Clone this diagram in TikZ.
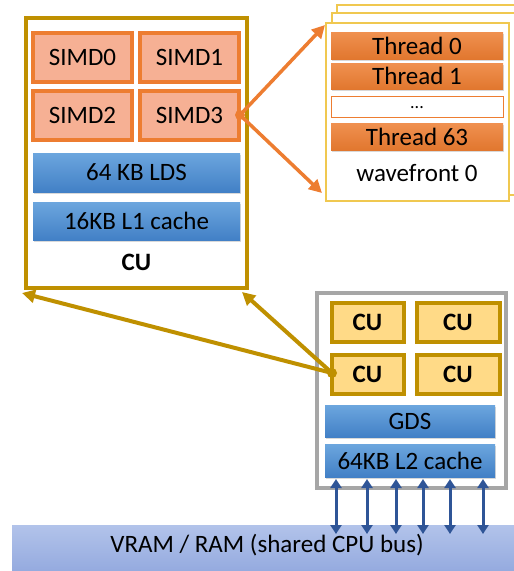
\documentclass[tikz,border=0pt]{standalone}
\usepackage{fontspec}
\setmainfont{Carlito}
\usetikzlibrary{arrows.meta,shadows}
\definecolor{gold}{RGB}{191,144,0}
\definecolor{orng}{RGB}{237,125,49}
\definecolor{salmon}{RGB}{246,176,148}
\definecolor{bluet}{RGB}{108,166,222}
\definecolor{blueb}{RGB}{66,128,198}
\definecolor{cufill}{RGB}{255,218,135}
\definecolor{grayb}{RGB}{166,166,166}
\definecolor{wfb}{RGB}{240,200,80}
\definecolor{busb}{RGB}{47,85,151}
\definecolor{vramt}{RGB}{178,195,234}
\definecolor{vramb}{RGB}{146,168,222}
\tikzset{
  txt/.style={font=\fontsize{25}{30}\selectfont},
  simdbox/.style={txt, draw=orng, line width=4pt, fill=salmon, inner sep=0pt, minimum width=99pt, minimum height=49pt},
  membox/.style={txt, inner sep=0pt, top color=bluet, bottom color=blueb, draw=none,
     drop shadow={opacity=0.3, shadow xshift=1pt, shadow yshift=-2pt}},
  thrbox/.style={txt, inner sep=0pt, minimum width=172pt, top color=orng!85, bottom color=orng!95!black, draw=none,
     drop shadow={opacity=0.3, shadow xshift=1pt, shadow yshift=-2pt}},
  cubox/.style={txt, font=\fontsize{25}{30}\selectfont\bfseries, draw=gold, line width=4pt, fill=cufill, inner sep=0pt, minimum height=39pt},
  orarrow/.style={draw=orng, line width=3.5pt, -{Triangle[length=13pt,width=13pt]}},
  goarrow/.style={draw=gold, line width=4pt, -{Triangle[length=13pt,width=13pt]}},
  busarrow/.style={draw=busb, line width=3pt, {Triangle[length=9pt,width=11pt]}-{Triangle[length=9pt,width=11pt]}},
}
\begin{document}
\begin{tikzpicture}[x=1pt,y=-1pt]
\useasboundingbox (0,0) rectangle (514,571);
% big CU box
\node[draw=gold, line width=4pt, minimum width=221pt, minimum height=270pt, inner sep=0pt] (cubig) at (136.5,153) {};
\node[simdbox] (s0) at (82.5,57.5) {SIMD0};
\node[simdbox] (s1) at (189.5,57.5) {SIMD1};
\node[simdbox] (s2) at (82.5,115) {SIMD2};
\node[simdbox] (s3) at (189.5,115) {SIMD3};
\node[membox, minimum width=207pt, minimum height=39pt] (lds) at (136.5,172.5) {64 KB LDS};
\node[membox, minimum width=207pt, minimum height=38pt] (l1) at (136.5,221) {16KB L1 cache};
\node[txt, font=\fontsize{25}{30}\selectfont\bfseries] (culbl) at (136.5,262) {CU};
% wavefront stack
\draw[draw=wfb, line width=1.5pt, fill=white] (337,5) rectangle (540,189);
\draw[draw=wfb, line width=1.5pt, fill=white] (332,13) rectangle (540,195);
\node[draw=wfb, line width=1.5pt, fill=white, minimum width=183pt, minimum height=178pt, inner sep=0pt] (wf) at (417.5,112) {};
\node[thrbox, minimum height=27pt] (t0) at (417,45.5) {Thread 0};
\node[thrbox, minimum height=26pt] (t1) at (417,76) {Thread 1};
\node[txt, draw=orng, line width=1pt, fill=white, minimum width=172pt, minimum height=21pt, inner sep=0pt] (tdots) at (417,106.5) {\raisebox{-4pt}{\fontsize{18}{20}\selectfont...}};
\node[thrbox, minimum height=27pt] (t63) at (417,136.5) {Thread 63};
\node[txt] (wflbl) at (417,173) {wavefront 0};
% orange arrows
\coordinate (od) at (240,115);
\coordinate (wtl) at (325,25);
\coordinate (wbl) at (322,193);
\draw[orarrow] (od) -- (wtl);
\draw[orarrow] (od) -- (wbl);
\fill[orng] (od) circle (5pt);
% GPU box
\node[draw=grayb, line width=4.5pt, fill=white, minimum width=189pt, minimum height=195pt, inner sep=0pt] (gpu) at (411.5,390.5) {};
\node[cubox, minimum width=72pt] (c0) at (367.5,322) {CU};
\node[cubox, minimum width=83pt] (c1) at (458,322) {CU};
\node[cubox, minimum width=72pt] (c2) at (367.5,374.5) {CU};
\node[cubox, minimum width=83pt] (c3) at (458,374.5) {CU};
\node[membox, minimum width=170pt, minimum height=32pt] (gds) at (410,421) {GDS};
\node[membox, minimum width=170pt, minimum height=33pt] (l2) at (410,460.5) {64KB L2 cache};
% gold arrows
\coordinate (gd) at (332,373);
\coordinate (cbl) at (22,293);
\coordinate (cbr) at (242,292);
\draw[goarrow] (gd) -- (cbl);
\draw[goarrow] (gd) -- (cbr);
\fill[gold] (gd) circle (5pt);
% VRAM bar
\node[txt, top color=vramt, bottom color=vramb, draw=none, minimum width=508pt, minimum height=50pt, inner sep=0pt, anchor=north west] (vram) at (12,525) {};
\node[txt] (vlbl) at (267,545) {VRAM / RAM (shared CPU bus)};
% bus arrows
\foreach \i/\x in {1/336,2/367,3/396,4/423,5/450,6/483}{
  \coordinate (bt\i) at (\x,479);
  \coordinate (bb\i) at (\x,534);
  \draw[busarrow] (bt\i) -- (bb\i);
}
\end{tikzpicture}
\end{document}
